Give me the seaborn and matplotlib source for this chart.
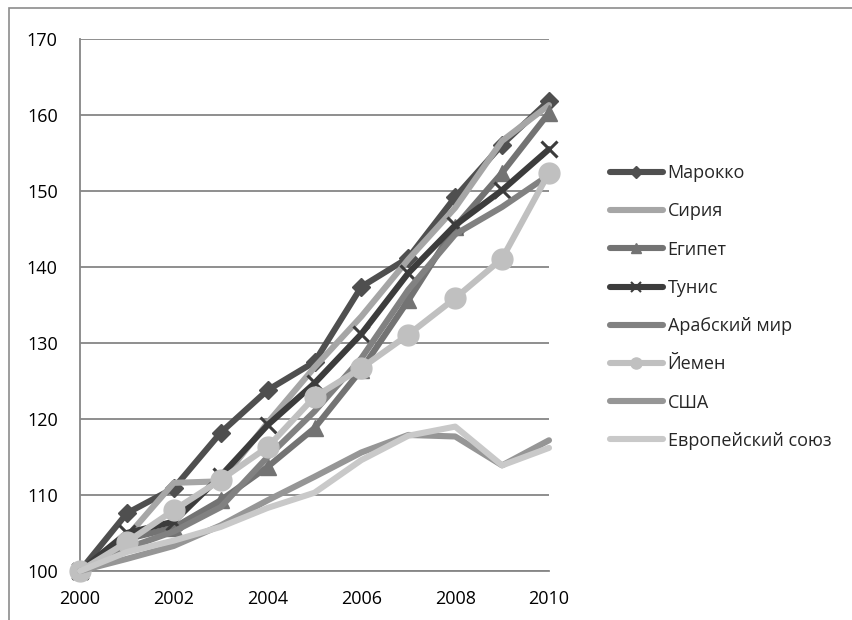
import seaborn as sns
import matplotlib.pyplot as plt
import matplotlib
from matplotlib.lines import Line2D
import pandas as pd

years = [2000, 2001, 2002, 2003, 2004, 2005, 2006, 2007, 2008, 2009, 2010]

countries = ["Марокко", "Сирия", "Египет", "Тунис", "Арабский мир",
             "Йемен", "США", "Европейский союз"]

morocco = [100, 107.6, 110.9, 118.2, 123.8, 127.5, 137.4, 141.2, 149.2, 156.1, 161.9]
syria = [100, 104.5, 111.6, 111.8, 119.5, 126.8, 133.5, 141.0, 147.8, 156.6, 161.3]
egypt = [100, 104.2, 105.7, 109.3, 113.7, 118.8, 126.5, 135.6, 145.3, 152.4, 160.3]
tunisia = [100, 105.0, 106.5, 112.5, 119.2, 124.7, 131.2, 139.2, 145.5, 150.1, 155.5]
arab_world = [100, 103.0, 105.2, 108.4, 115.0, 121.0, 128.0, 137.0, 144.3, 147.9, 152.1]
yemen = [100, 103.8, 108.0, 112.0, 116.3, 122.9, 126.7, 131.1, 135.9, 141.1, 152.4]
usa = [100, 101.6, 103.3, 106.0, 109.3, 112.4, 115.6, 117.9, 117.7, 113.9, 117.2]
eu = [100, 102.5, 104.0, 105.8, 108.3, 110.3, 114.6, 117.8, 119.0, 113.9, 116.2]

series = [morocco, syria, egypt, tunisia, arab_world, yemen, usa, eu]

colors = ["#4f4f4f", "#a6a6a6", "#737373", "#3c3c3c", "#818181",
          "#c0c0c0", "#969696", "#c9c9c9"]
markers = ["D", None, "^", "x", None, "o", None, None]
msizes = [9, 0, 12, 11, 0, 15, 0, 0]
leg_msizes = [6, 0, 7, 7, 0, 8, 0, 0]

df = pd.DataFrame({
    "year": years * len(countries),
    "value": sum(series, []),
    "country": [c for c in countries for _ in years],
})

sns.set_style("white")
plt.rcParams["font.family"] = ["Open Sans", "DejaVu Sans"]

fig = plt.figure(figsize=(8.53, 6.2), dpi=100)
ax = fig.add_axes([80 / 853, 1 - 571 / 620, (549 - 80) / 853, (571 - 39) / 620])

# chart frame (only left/top edge visible in crop)
fig.add_artist(matplotlib.patches.Rectangle((9 / 853, -0.1), 2, 1.1 - 8 / 620,
                                            transform=fig.transFigure, fill=False,
                                            edgecolor="#8c8c8c", lw=1.2))

for i, c in enumerate(countries):
    kw = {}
    if markers[i]:
        kw = dict(marker=markers[i], markersize=msizes[i],
                  markeredgecolor=colors[i], markerfacecolor=colors[i],
                  markeredgewidth=2.2 if markers[i] == "x" else 1)
    sns.lineplot(data=df[df["country"] == c], x="year", y="value", ax=ax,
                 color=colors[i], lw=4.4, clip_on=False, zorder=3 + i,
                 solid_capstyle="round", legend=False, **kw)

ax.set_xlim(2000, 2010)
ax.set_ylim(100, 170)
ax.set_xticks(range(2000, 2011, 2))
ax.set_yticks(range(100, 171, 10))
ax.set_xlabel("")
ax.set_ylabel("")
ax.grid(True, axis="y", color="#868686", lw=1.3)
ax.grid(False, axis="x")
for s in ["top", "right"]:
    ax.spines[s].set_visible(False)
for s in ["left", "bottom"]:
    ax.spines[s].set_color("#868686")
    ax.spines[s].set_linewidth(1.3)
ax.tick_params(axis="both", direction="out", length=6, width=1.3, color="#868686",
               labelsize=13, labelcolor="black")
ax.tick_params(axis="y", pad=10)
ax.tick_params(axis="x", pad=8)

handles = []
for i, c in enumerate(countries):
    handles.append(Line2D([], [], color=colors[i], lw=4.4, solid_capstyle="round",
                          marker=markers[i] if markers[i] else None,
                          markersize=leg_msizes[i], markerfacecolor=colors[i],
                          markeredgecolor=colors[i],
                          markeredgewidth=1.5 if markers[i] == "x" else 1))
fig.legend(handles=handles, labels=countries, loc="upper left",
           bbox_to_anchor=(603 / 853, 1 - 157 / 620), frameon=False,
           fontsize=13, labelspacing=1.12, handlelength=2.9, handletextpad=0.28,
           borderaxespad=0)

fig.savefig("out.png", dpi=100)
